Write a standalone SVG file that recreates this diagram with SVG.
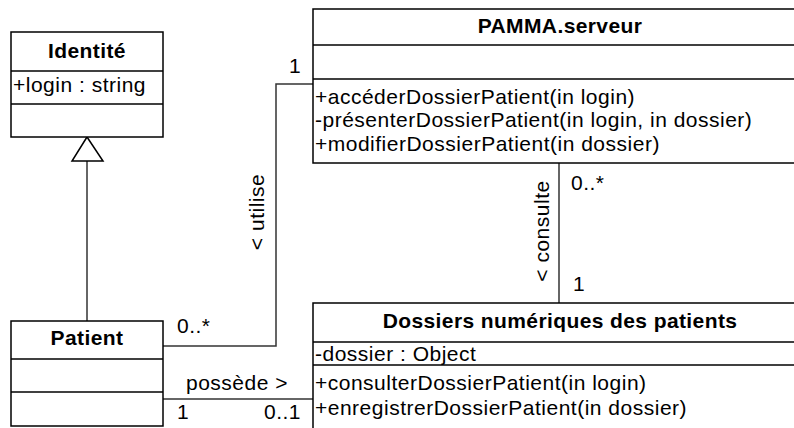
<svg xmlns="http://www.w3.org/2000/svg" width="794" height="428" viewBox="0 0 794 428">
<style>
.box{fill:#fff;stroke:#000;stroke-width:1.5}
.div{stroke:#000;stroke-width:1.5}
.con{fill:none;stroke:#333;stroke-width:1.5}
text{font-family:"Liberation Sans",Arial,sans-serif;font-size:21px;fill:#000;letter-spacing:0.5px}
.t{font-weight:bold;text-anchor:middle;letter-spacing:0.4px}
.c{text-anchor:middle}
</style>
<rect width="794" height="428" fill="#fff"/>
<g id="connectors">
<polyline class="con" points="163,346 276,346 276,84 313,84"/>
<line class="con" x1="559" y1="163" x2="559" y2="303"/>
<line class="con" x1="163" y1="399" x2="313" y2="399"/>
<line class="con" x1="87" y1="161" x2="87" y2="321"/>
<polygon points="87,137 72,161 103,161" fill="#fff" stroke="#000" stroke-width="1.5"/>
<text x="289" y="73">1</text>
<text x="177" y="333">0..*</text>
<text transform="translate(264,212) rotate(-90)" class="c">&lt; utilise</text>
<text x="237" y="390" class="c">possède &gt;</text>
<text x="177" y="419">1</text>
<text x="264" y="419">0..1</text>
<text x="571" y="190">0..*</text>
<text x="573" y="291">1</text>
<text transform="translate(549,231) rotate(-90)" class="c">&lt; consulte</text>
</g>
<g id="identite">
<rect class="box" x="11" y="32" width="152" height="105"/>
<line class="div" x1="11" y1="71" x2="163" y2="71"/>
<line class="div" x1="11" y1="104" x2="163" y2="104"/>
<text x="87" y="58" class="t">Identité</text>
<text x="13" y="92">+login : string</text>
</g>
<g id="pamma">
<rect class="box" x="313" y="9" width="494" height="154"/>
<line class="div" x1="313" y1="45" x2="807" y2="45"/>
<line class="div" x1="313" y1="79" x2="807" y2="79"/>
<text x="560" y="33" class="t">PAMMA.serveur</text>
<text x="315" y="104">+accéderDossierPatient(in login)</text>
<text x="315" y="127">-présenterDossierPatient(in login, in dossier)</text>
<text x="315" y="151">+modifierDossierPatient(in dossier)</text>
</g>
<g id="patient">
<rect class="box" x="11" y="321" width="152" height="105"/>
<line class="div" x1="11" y1="359" x2="163" y2="359"/>
<line class="div" x1="11" y1="392" x2="163" y2="392"/>
<text x="87" y="345" class="t">Patient</text>
</g>
<g id="dossiers">
<rect class="box" x="313" y="303" width="494" height="140"/>
<line class="div" x1="313" y1="342" x2="807" y2="342"/>
<line class="div" x1="313" y1="365" x2="807" y2="365"/>
<text x="560" y="328" class="t">Dossiers numériques des patients</text>
<text x="315" y="361">-dossier : Object</text>
<text x="315" y="390">+consulterDossierPatient(in login)</text>
<text x="315" y="415">+enregistrerDossierPatient(in dossier)</text>
</g>
</svg>
